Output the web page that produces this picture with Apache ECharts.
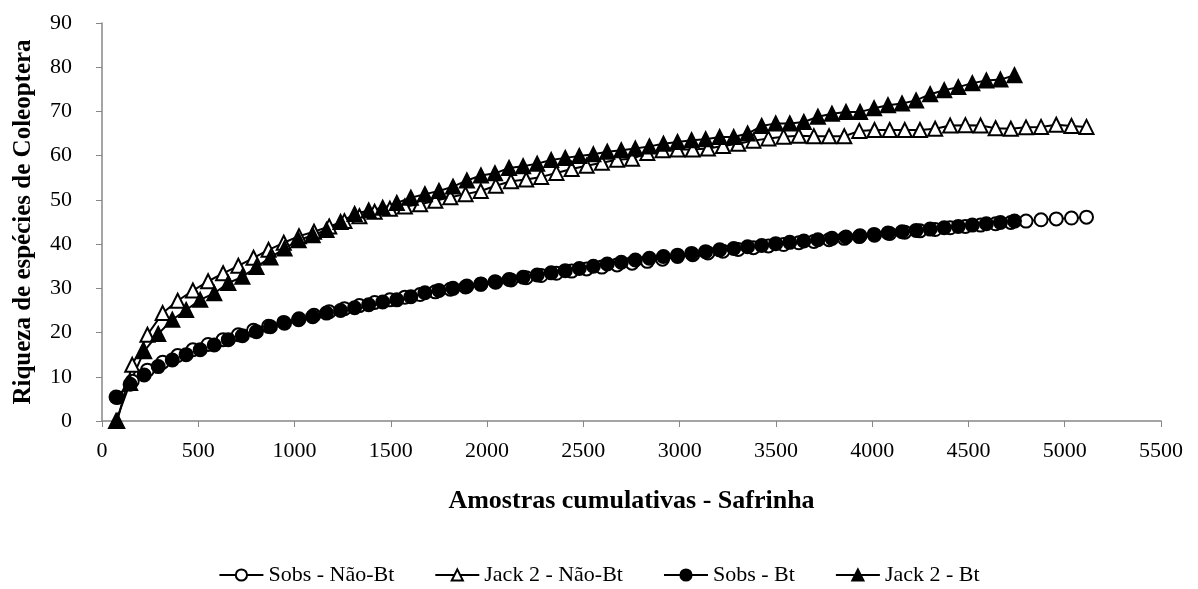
<!DOCTYPE html>
<html>
<head>
    <meta charset="UTF-8">
    <title>Riqueza de Coleoptera - Safrinha</title>
    <style>
        *{
            margin: 0;
            padding: 0;
        }
        #chart{
            width: 1198px;
            height: 589px;
            background: #fff;
        }
    </style>
    <script src="https://cdn.jsdelivr.net/npm/echarts@6/dist/echarts.min.js"></script>
</head>
<body>
<div id="chart"></div>
<script>
    // amostras cumulativas (eixo x)
    let amostrasNaoBt=[79,157,236,315,393,472,551,629,708,787,865,944,1023,1101,1180,1259,1337,1416,1495,1573,
        1652,1731,1809,1888,1967,2045,2124,2203,2281,2360,2439,2517,2596,2675,2753,2832,2911,2989,3068,3147,
        3225,3304,3383,3461,3540,3619,3697,3776,3855,3933,4012,4091,4169,4248,4327,4405,4484,4563,4641,4720,
        4799,4877,4956,5035,5113]
    let amostrasBt=[73,146,219,292,365,437,510,583,656,729,802,875,948,1021,1094,1166,1239,1312,1385,1458,
        1531,1604,1677,1750,1823,1895,1968,2041,2114,2187,2260,2333,2406,2479,2552,2624,2697,2770,2843,2916,
        2989,3062,3135,3208,3281,3353,3426,3499,3572,3645,3718,3791,3864,3937,4010,4082,4155,4228,4301,4374,
        4447,4520,4593,4666,4739]

    let sobsNaoBt=[5.3,9.0,11.5,13.3,14.8,16.1,17.3,18.4,19.5,20.5,21.4,22.3,23.1,23.9,24.7,25.4,26.1,26.8,27.4,28.0,
        28.6,29.2,29.8,30.3,30.9,31.4,31.9,32.4,32.9,33.4,33.9,34.4,34.8,35.3,35.7,36.1,36.6,37.2,37.6,38.0,
        38.4,38.8,39.2,39.6,39.9,40.3,40.6,41.0,41.3,41.7,42.0,42.4,42.7,43.0,43.3,43.7,44.0,44.3,44.6,44.9,
        45.2,45.5,45.7,45.9,46.1]
    let jackNaoBt=[0,12.7,19.5,24.4,27.2,29.5,31.6,33.4,35.1,36.9,38.7,40.3,41.8,42.8,44.0,45.2,46.3,47.3,48.0,48.5,
        49.0,49.8,50.6,51.3,52.0,53.2,54.2,54.6,55.2,56.1,57.0,57.7,58.4,59.1,59.3,60.6,61.2,61.4,61.4,61.6,
        62.2,62.7,63.4,63.9,64.3,64.5,64.4,64.4,64.4,65.6,65.8,65.8,65.8,65.8,66.1,66.8,66.9,66.8,66.2,66.1,
        66.4,66.5,67.0,66.7,66.5]
    let sobsBt=[5.4,8.3,10.4,12.3,13.8,15.0,16.1,17.2,18.4,19.3,20.2,21.3,22.1,22.9,23.6,24.4,25.0,25.6,26.3,26.9,
        27.4,28.1,29.0,29.5,30.0,30.5,31.0,31.5,32.0,32.5,33.0,33.5,34.0,34.5,35.0,35.5,35.9,36.4,36.8,37.2,
        37.5,37.9,38.3,38.7,39.0,39.4,39.7,40.1,40.4,40.7,41.0,41.3,41.6,41.9,42.2,42.5,42.8,43.1,43.4,43.7,
        44.0,44.3,44.6,44.9,45.2]
    let jackBt=[0,8.6,15.8,19.7,22.9,25.1,27.4,28.9,31.2,32.6,34.8,37.0,39.0,40.9,42.0,43.2,45.0,46.8,47.6,48.2,
        49.3,50.5,51.3,52.0,53.0,54.4,55.5,56.0,57.2,57.6,58.2,59.0,59.5,59.9,60.3,60.9,61.2,61.6,62.1,62.7,
        63.1,63.5,63.7,64.2,64.2,65.0,66.7,67.3,67.3,67.6,68.8,69.5,69.9,69.9,70.7,71.4,71.8,72.5,73.9,74.8,
        75.5,76.4,77.0,77.2,78.2]

    let nomes=['Sobs - Não-Bt','Jack 2 - Não-Bt','Sobs - Bt','Jack 2 - Bt']
    let fonte='"Liberation Serif","Times New Roman",serif'

    let pares=(xs,ys)=>xs.map((x,i)=>[x,ys[i]])

    function serie(nome,xs,ys,simbolo,tamanho,cheio){
        return {
            name:nome,
            type:'line',
            data:pares(xs,ys),
            symbol:simbolo,
            symbolSize:tamanho,
            showAllSymbol:true,
            lineStyle:{color:'#000',width:2},
            itemStyle:{
                color:cheio?'#000':'#fff',
                borderColor:'#000',
                borderWidth:2
            },
            emphasis:{disabled:true}
        }
    }

    let mychart=echarts.init(document.getElementById('chart'))
    let option={
        animation:false,
        backgroundColor:'#fff',
        textStyle:{fontFamily:fonte,color:'#000'},
        grid:{left:102,top:23,width:1059,height:398},
        xAxis:{
            type:'value',
            min:0,
            max:5500,
            interval:500,
            name:'Amostras cumulativas - Safrinha',
            nameLocation:'middle',
            nameGap:67,
            nameTextStyle:{fontFamily:fonte,fontSize:26,fontWeight:'bold',color:'#000'},
            axisLine:{lineStyle:{color:'#878787',width:1.5}},
            axisTick:{show:true,length:6,lineStyle:{color:'#878787'}},
            axisLabel:{fontFamily:fonte,fontSize:22,color:'#000',margin:19,formatter:v=>String(v)},
            splitLine:{show:false}
        },
        yAxis:{
            type:'value',
            min:0,
            max:90,
            interval:10,
            name:'Riqueza de espécies de Coleoptera',
            nameLocation:'middle',
            nameGap:66,
            nameTextStyle:{fontFamily:fonte,fontSize:25,fontWeight:'bold',color:'#000'},
            axisLine:{show:true,lineStyle:{color:'#878787',width:1.5}},
            axisTick:{show:true,length:6,lineStyle:{color:'#878787'}},
            axisLabel:{fontFamily:fonte,fontSize:22,color:'#000',margin:30},
            splitLine:{show:false}
        },
        legend:{
            data:nomes,
            bottom:3,
            padding:0,
            left:'center',
            itemWidth:44,
            itemHeight:14,
            itemGap:40,
            textStyle:{fontFamily:fonte,fontSize:22,color:'#000'}
        },
        series:[
            serie(nomes[0],amostrasNaoBt,sobsNaoBt,'circle',13,false),
            serie(nomes[1],amostrasNaoBt,jackNaoBt,'triangle',14,false),
            serie(nomes[2],amostrasBt,sobsBt,'circle',13,true),
            serie(nomes[3],amostrasBt,jackBt,'triangle',14,true)
        ]
    }
    mychart.setOption(option)
</script>
</body>
</html>
